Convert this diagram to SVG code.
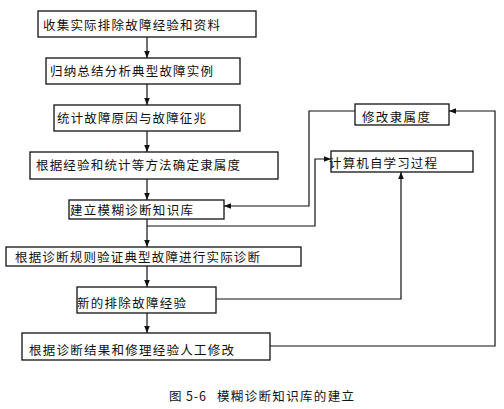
<svg xmlns="http://www.w3.org/2000/svg" width="504" height="409" viewBox="0 0 504 409">
<defs>
<marker id="ah" viewBox="0 0 10 10" refX="10" refY="5" markerWidth="7" markerHeight="7" markerUnits="userSpaceOnUse" orient="auto">
<path d="M0,1 L10,5 L0,9 Z" fill="#111"/>
</marker>
<style>
rect{fill:#fff;stroke:#111;stroke-width:1.3}
text{font-family:"Noto Sans CJK SC","Liberation Sans",sans-serif;font-size:12.5px;fill:#111;dominant-baseline:central}
.c{fill:none;stroke:#111;stroke-width:1.2}
</style>
</defs>
<rect x="0" y="0" width="504" height="409" style="fill:#fff;stroke:none"/>
<g id="connectors">
<path class="c" d="M147,37 V58" marker-end="url(#ah)"/>
<path class="c" d="M147,84 V105" marker-end="url(#ah)"/>
<path class="c" d="M147,131 V152" marker-end="url(#ah)"/>
<path class="c" d="M147,179 V200" marker-end="url(#ah)"/>
<path class="c" d="M147,219 V247" marker-end="url(#ah)"/>
<path class="c" d="M147,266 V287" marker-end="url(#ah)"/>
<path class="c" d="M147,313 V333" marker-end="url(#ah)"/>
<path class="c" d="M355,111 H309 V206 H224" marker-end="url(#ah)"/>
<path class="c" d="M147,226 H315 V159 H331" marker-end="url(#ah)"/>
<path class="c" d="M216,299 H401 V172" marker-end="url(#ah)"/>
<path class="c" d="M270,346 H495 V111 H449" marker-end="url(#ah)"/>
</g>
<g id="n1"><rect x="38" y="11" width="218" height="26"/><text x="43" y="24" textLength="177">收集实际排除故障经验和资料</text></g>
<g id="n2"><rect x="46" y="58" width="194" height="26"/><text x="50" y="70" textLength="163">归纳总结分析典型故障实例</text></g>
<g id="n3"><rect x="54" y="105" width="186" height="26"/><text x="57" y="117" textLength="149">统计故障原因与故障征兆</text></g>
<g id="n4"><rect x="30" y="152" width="248" height="27"/><text x="36" y="164" textLength="204">根据经验和统计等方法确定隶属度</text></g>
<g id="n5"><rect x="69" y="200" width="155" height="19"/><text x="70" y="209" textLength="123">建立模糊诊断知识库</text></g>
<g id="n6"><rect x="6" y="247" width="295" height="19"/><text x="15" y="256" textLength="245">根据诊断规则验证典型故障进行实际诊断</text></g>
<g id="n7"><rect x="77" y="287" width="139" height="26"/><text x="77" y="302" textLength="109">新的排除故障经验</text></g>
<g id="n8"><rect x="22" y="333" width="248" height="27"/><text x="29" y="349" textLength="205">根据诊断结果和修理经验人工修改</text></g>
<g id="n9"><rect x="355" y="104" width="94" height="21"/><text x="362" y="116" textLength="68">修改隶属度</text></g>
<g id="n10"><rect x="331" y="151" width="142" height="21"/><text x="329" y="162" textLength="108">计算机自学习过程</text></g>
<text x="169" y="395" textLength="37">图 5-6</text>
<text x="217" y="395" textLength="137">模糊诊断知识库的建立</text>
</svg>
